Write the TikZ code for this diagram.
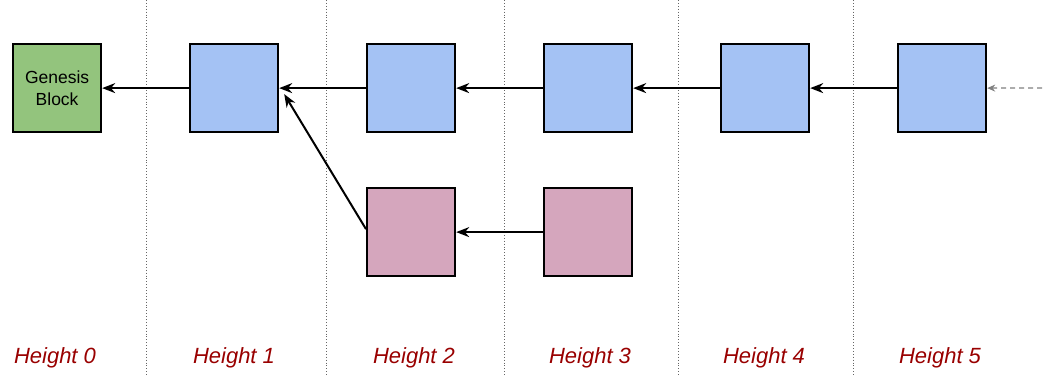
\documentclass[tikz,border=0pt]{standalone}
\usepackage{fontspec}
\setmainfont{Liberation Sans}
\usetikzlibrary{arrows.meta}
\definecolor{gbox}{HTML}{93C47D}
\definecolor{bbox}{HTML}{A4C2F4}
\definecolor{pbox}{HTML}{D5A6BD}
\definecolor{hred}{HTML}{990000}
\begin{document}
\begin{tikzpicture}[x=1pt,y=-1pt,
  blk/.style={draw=black,line width=2.2pt,minimum width=88pt,minimum height=88pt,inner sep=0pt,anchor=north west},
  link/.style={line width=2pt,-{Stealth[length=13pt,width=10pt]}},
  sep/.style={draw=gray!80!black,line width=0.9pt,dotted},
  hlab/.style={text=hred,font=\itshape\fontsize{22pt}{26pt}\selectfont}]
\useasboundingbox (0,0) rectangle (1052,376);
\foreach \x [count=\i] in {146,326,504,678,853}{
  \coordinate (st\i) at (\x,0); \coordinate (sb\i) at (\x,376);
  \draw[sep] (st\i) -- (sb\i);}
\node[blk,fill=gbox,align=center,font=\fontsize{17.5pt}{22pt}\selectfont] (g) at (12,43) {Genesis\\Block};
\node[blk,fill=bbox] (b1) at (189,43) {};
\node[blk,fill=bbox] (b2) at (366,43) {};
\node[blk,fill=bbox] (b3) at (543,43) {};
\node[blk,fill=bbox] (b4) at (720,43) {};
\node[blk,fill=bbox] (b5) at (897,43) {};
\node[blk,fill=pbox] (p2) at (366,187) {};
\node[blk,fill=pbox] (p3) at (543,187) {};
\coordinate (in) at (1042,88);
\draw[link] (b1.west) -- (g.east);
\draw[link] (b2.west) -- (b1.east);
\draw[link] (b3.west) -- (b2.east);
\draw[link] (b4.west) -- (b3.east);
\draw[link] (b5.west) -- (b4.east);
\draw[link] (p3.west) -- (p2.east);
\draw[link] ([yshift=3pt]p2.west) -- ([xshift=5pt,yshift=-6pt]b1.east);
\draw[gray,line width=1.2pt,dash pattern=on 5pt off 4pt,-{Stealth[length=8pt,width=7pt]}] (in) -- (b5.east);
\node[hlab] (h0) at (55,358) {Height 0};
\node[hlab] (h1) at (234,358) {Height 1};
\node[hlab] (h2) at (414,358) {Height 2};
\node[hlab] (h3) at (590,358) {Height 3};
\node[hlab] (h4) at (764,358) {Height 4};
\node[hlab] (h5) at (940,358) {Height 5};
\end{tikzpicture}
\end{document}
